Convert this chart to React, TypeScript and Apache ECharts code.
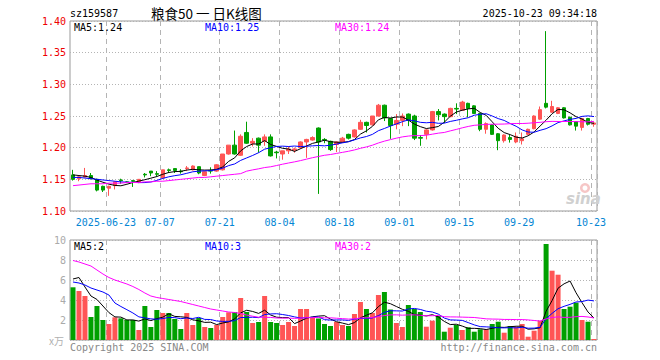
import React, { useEffect, useRef } from "react";
import * as echarts from "echarts";

const dates = [
  "2025-06-13","2025-06-16","2025-06-17","2025-06-18","2025-06-19","2025-06-20","2025-06-23","2025-06-24","2025-06-25","2025-06-26",
  "2025-06-27","2025-06-30","2025-07-01","2025-07-02","2025-07-03","2025-07-07","2025-07-08","2025-07-09","2025-07-10","2025-07-11",
  "2025-07-14","2025-07-15","2025-07-16","2025-07-17","2025-07-18","2025-07-21","2025-07-22","2025-07-23","2025-07-24","2025-07-25",
  "2025-07-28","2025-07-29","2025-07-30","2025-07-31","2025-08-01","2025-08-04","2025-08-05","2025-08-06","2025-08-07","2025-08-08",
  "2025-08-11","2025-08-12","2025-08-13","2025-08-14","2025-08-15","2025-08-18","2025-08-19","2025-08-20","2025-08-21","2025-08-22",
  "2025-08-25","2025-08-26","2025-08-27","2025-08-28","2025-08-29","2025-09-01","2025-09-02","2025-09-03","2025-09-04","2025-09-05",
  "2025-09-08","2025-09-09","2025-09-10","2025-09-11","2025-09-12","2025-09-15","2025-09-16","2025-09-17","2025-09-18","2025-09-19",
  "2025-09-22","2025-09-23","2025-09-24","2025-09-25","2025-09-26","2025-09-29","2025-09-30","2025-10-09","2025-10-10","2025-10-13",
  "2025-10-14","2025-10-15","2025-10-16","2025-10-17","2025-10-20","2025-10-21","2025-10-22","2025-10-23",
];

const tickDates = ["2025-06-23","2025-07-07","2025-07-21","2025-08-04","2025-08-18","2025-09-01","2025-09-15","2025-09-29","2025-10-23"];

const opens = [
  1.157,1.151,1.1535,1.156,1.150,1.139,1.136,1.140,1.149,1.146,
  1.148,1.145,1.158,1.163,1.159,1.152,1.165,1.167,1.163,1.167,
  1.165,1.170,1.156,1.164,1.163,1.165,1.190,1.204,1.188,1.224,
  1.207,1.215,1.210,1.217,1.193,1.190,1.195,1.196,1.200,1.209,
  1.212,1.231,1.213,1.210,1.205,1.209,1.221,1.217,1.229,1.240,
  1.236,1.250,1.267,1.246,1.237,1.243,1.253,1.250,1.216,1.221,
  1.228,1.257,1.253,1.249,1.262,1.259,1.270,1.266,1.254,1.229,
  1.236,1.222,1.211,1.216,1.209,1.211,1.221,1.230,1.245,1.270,
  1.256,1.254,1.263,1.248,1.241,1.232,1.246,1.237,
];
const closes = [
  1.150,1.154,1.156,1.151,1.133,1.133,1.139,1.146,1.148,1.145,
  1.147,1.150,1.157,1.160,1.158,1.165,1.164,1.164,1.162,1.168,
  1.171,1.160,1.162,1.163,1.173,1.190,1.204,1.190,1.218,1.207,
  1.210,1.204,1.217,1.187,1.192,1.195,1.198,1.198,1.209,1.213,
  1.216,1.209,1.212,1.197,1.209,1.215,1.215,1.228,1.240,1.235,
  1.250,1.267,1.247,1.235,1.243,1.250,1.243,1.215,1.215,1.228,
  1.257,1.252,1.249,1.262,1.261,1.272,1.262,1.254,1.229,1.238,
  1.221,1.211,1.220,1.213,1.218,1.214,1.229,1.250,1.260,1.264,
  1.265,1.263,1.247,1.236,1.234,1.246,1.237,1.239,
];
const lows = [
  1.148,1.147,1.153,1.150,1.131,1.130,1.124,1.134,1.143,1.144,
  1.138,1.144,1.153,1.155,1.154,1.151,1.160,1.160,1.159,1.163,
  1.164,1.158,1.155,1.159,1.162,1.164,1.189,1.189,1.187,1.206,
  1.202,1.192,1.203,1.186,1.183,1.181,1.190,1.192,1.198,1.184,
  1.211,1.127,1.207,1.195,1.193,1.208,1.213,1.216,1.228,1.224,
  1.235,1.249,1.242,1.214,1.229,1.234,1.234,1.212,1.203,1.213,
  1.227,1.243,1.239,1.248,1.253,1.258,1.248,1.253,1.226,1.222,
  1.220,1.196,1.208,1.208,1.207,1.205,1.220,1.229,1.244,1.262,
  1.255,1.253,1.246,1.235,1.227,1.227,1.235,1.233,
];
const highs = [
  1.165,1.155,1.168,1.160,1.151,1.140,1.140,1.146,1.151,1.147,
  1.149,1.150,1.160,1.163,1.163,1.165,1.167,1.167,1.166,1.171,
  1.172,1.170,1.163,1.169,1.174,1.190,1.204,1.227,1.221,1.241,
  1.215,1.216,1.221,1.221,1.195,1.195,1.202,1.200,1.210,1.214,
  1.218,1.232,1.215,1.211,1.210,1.217,1.222,1.229,1.244,1.241,
  1.250,1.269,1.268,1.247,1.253,1.254,1.254,1.252,1.220,1.229,
  1.258,1.261,1.254,1.263,1.270,1.274,1.271,1.267,1.255,1.240,
  1.237,1.223,1.221,1.220,1.224,1.224,1.230,1.251,1.265,1.384,
  1.274,1.264,1.264,1.249,1.242,1.247,1.247,1.240,
];

// volume, 万手
const volumes = [
  5.27,4.9,4.4,2.3,3.4,2.0,1.6,2.27,2.17,2.0,
  2.0,1.0,3.4,1.3,3.0,2.7,2.7,2.1,1.1,2.7,
  1.5,2.2,1.3,1.2,1.5,2.3,2.77,2.8,4.2,2.8,
  1.7,1.8,4.4,1.8,1.7,1.5,1.8,1.4,3.1,3.1,
  2.2,2.15,1.6,1.4,1.8,1.5,1.4,2.6,3.8,3.1,
  2.7,4.5,4.8,3.05,1.7,1.3,3.5,3.1,2.8,1.33,
  1.93,2.4,0.83,1.23,1.5,1.0,1.27,0.83,1.07,1.07,
  1.6,1.83,0.73,1.4,1.33,1.6,0.33,0.93,1.93,9.6,
  6.93,6.53,3.1,3.33,3.73,2.0,1.83,0.1,
];

// moving-average values at the left edge (their windows reach before the first candle)
const priceMa5Head = [1.157, 1.156, 1.155, 1.153];
const priceMa10Head = [1.153, 1.153, 1.152, 1.151, 1.150, 1.149, 1.148, 1.147, 1.146];
const priceMa30Head = [
  1.140,1.141,1.142,1.143,1.143,1.143,1.144,1.144,1.144,1.145,
  1.145,1.145,1.146,1.146,1.147,1.147,1.148,1.149,1.150,1.151,
  1.152,1.153,1.153,1.154,1.155,1.156,1.157,1.158,1.159,
];
const volMa5Head = [6.1, 6.25, 5.3, 4.4];
const volMa10Head = [5.8, 5.7, 5.5, 5.2, 5.0, 4.8, 4.5, 3.7, 3.35];
const volMa30Head = [
  7.95,7.8,7.6,7.4,7.0,6.6,6.25,6.0,5.8,5.6,
  5.35,5.05,4.7,4.4,4.25,4.15,4.05,3.95,3.85,3.7,
  3.55,3.4,3.25,3.1,3.0,2.9,2.8,2.75,2.65,
];

const priceTicks = [1.10, 1.15, 1.20, 1.25, 1.30, 1.35, 1.40];
const volTicks = [0, 2, 4, 6, 8, 10];

const legendPrice = ["MA5:1.24", "MA10:1.25", "MA30:1.24"];
const legendVol = ["MA5:2", "MA10:3", "MA30:2"];

const UP = "#ff5555";
const DOWN = "#00a000";
const MONO = '"DejaVu Sans Mono", monospace';

function movingAverage(values: number[], n: number, head: number[]): number[] {
  return values.map((_, i) => {
    if (i < n - 1) return head[i];
    let s = 0;
    for (let k = i - n + 1; k <= i; k++) s += values[k];
    return +(s / n).toFixed(4);
  });
}

export default function App() {
  const ref = useRef<HTMLDivElement>(null);

  useEffect(() => {
    if (!ref.current) return;
    const chart = echarts.init(ref.current, undefined, { renderer: "svg" });

    const tickIdx = tickDates.map((d) => dates.indexOf(d));
    const isTick = (i: number) => tickIdx.indexOf(i) >= 0;

    const candles = dates.map((_, i) => [opens[i], closes[i], lows[i], highs[i]]);
    const volBars = volumes.map((v, i) => ({
      value: v,
      itemStyle: { color: closes[i] >= opens[i] ? UP : DOWN },
    }));

    const pMa5 = movingAverage(closes, 5, priceMa5Head);
    const pMa10 = movingAverage(closes, 10, priceMa10Head);
    const pMa30 = movingAverage(closes, 30, priceMa30Head);
    const vMa5 = movingAverage(volumes, 5, volMa5Head);
    const vMa10 = movingAverage(volumes, 10, volMa10Head);
    const vMa30 = movingAverage(volumes, 30, volMa30Head);

    const vSplit = {
      show: true,
      interval: (i: number) => isTick(i),
      lineStyle: { color: "#b4b4b4", type: [5, 4], width: 1 },
    };
    const hSplit = {
      show: true,
      lineStyle: { color: "#b4b4b4", type: [1, 2], width: 1 },
    };

    const line = (data: number[], color: string, xi: number) => ({
      type: "line",
      xAxisIndex: xi,
      yAxisIndex: xi,
      data,
      symbol: "none",
      smooth: false,
      lineStyle: { color, width: 1 },
      itemStyle: { color },
      z: 5,
    });

    const txt = (x: number, y: number, text: string, fill: string, align = "left", font = `10px ${MONO}`) => ({
      type: "text",
      x,
      y,
      z: 100,
      style: { text, fill, font, textAlign: align, textVerticalAlign: "middle" },
    });

    chart.setOption({
      animation: false,
      backgroundColor: "#ffffff",
      textStyle: { fontFamily: MONO },
      grid: [
        { left: 70, top: 21, width: 527, height: 190, show: true, borderColor: "#999999", borderWidth: 1, backgroundColor: "transparent" },
        { left: 70, top: 240, width: 527, height: 100, show: true, borderColor: "#999999", borderWidth: 1, backgroundColor: "transparent" },
      ],
      xAxis: [
        {
          type: "category",
          gridIndex: 0,
          data: dates,
          boundaryGap: true,
          axisLine: { show: false },
          axisTick: { show: false },
          axisLabel: {
            interval: (i: number) => isTick(i),
            formatter: (v: string, i: number) => (i === tickIdx[0] ? v : v.slice(5)),
            color: "#0586d4",
            fontFamily: MONO,
            fontSize: 10,
            margin: 6,
            padding: [0, 6, 0, 0],
          },
          splitLine: vSplit,
        },
        {
          type: "category",
          gridIndex: 1,
          data: dates,
          boundaryGap: true,
          axisLine: { show: false },
          axisTick: { show: false },
          axisLabel: { show: false },
          splitLine: vSplit,
        },
      ],
      yAxis: [
        {
          type: "value",
          gridIndex: 0,
          min: priceTicks[0],
          max: priceTicks[priceTicks.length - 1],
          interval: 0.05,
          axisLine: { show: false },
          axisTick: { show: false },
          axisLabel: {
            color: "#ee0000",
            fontFamily: MONO,
            fontSize: 10,
            margin: 4,
            formatter: (v: number) => v.toFixed(2),
          },
          splitLine: hSplit,
        },
        {
          type: "value",
          gridIndex: 1,
          min: volTicks[0],
          max: volTicks[volTicks.length - 1],
          interval: 2,
          axisLine: { show: false },
          axisTick: { show: false },
          axisLabel: {
            color: "#aaaaaa",
            fontFamily: MONO,
            fontSize: 10,
            margin: 4,
            formatter: (v: number) => (v === 0 ? "" : String(v)),
          },
          splitLine: hSplit,
        },
      ],
      series: [
        {
          type: "candlestick",
          xAxisIndex: 0,
          yAxisIndex: 0,
          data: candles,
          barWidth: 4,
          itemStyle: { color: UP, color0: DOWN, borderColor: UP, borderColor0: DOWN, borderWidth: 1 },
          z: 3,
        },
        line(pMa5, "#000000", 0),
        line(pMa10, "#0000ff", 0),
        line(pMa30, "#ff00ff", 0),
        {
          type: "bar",
          xAxisIndex: 1,
          yAxisIndex: 1,
          data: volBars,
          barWidth: 5,
          z: 3,
        },
        line(vMa5, "#000000", 1),
        line(vMa10, "#0000ff", 1),
        line(vMa30, "#ff00ff", 1),
      ],
      graphic: [
        txt(70, 13, "sz159587", "#000000"),
        txt(151, 13, "粮食50 一 日K线图", "#000000", "left", `13.5px "Noto Sans CJK SC"`),
        txt(597, 13, "2025-10-23 09:34:18", "#000000", "right"),
        txt(74, 27, legendPrice[0], "#000000"),
        txt(205, 27, legendPrice[1], "#0000ff"),
        txt(335, 27, legendPrice[2], "#ff00ff"),
        txt(74, 246, legendVol[0], "#000000"),
        txt(205, 246, legendVol[1], "#0000ff"),
        txt(335, 246, legendVol[2], "#ff00ff"),
        txt(49, 340, "x万", "#b0b0b0", "left", `10px "Noto Sans CJK SC"`),
        txt(70, 347, "Copyright 2025 SINA.COM", "#888888"),
        txt(597, 347, "http://finance.sina.com.cn", "#888888", "right"),
        { type: "ring", shape: { cx: 585, cy: 188, r: 5, r0: 2.5 }, style: { fill: "#f6c6c6" }, z: 1 },
        txt(566, 199, "sina", "#d0d0d0", "left", `italic bold 15px "DejaVu Sans"`),
      ],
    });

    return () => chart.dispose();
  }, []);

  return (
    <div
      ref={ref}
      style={{ position: "fixed", left: 0, top: 0, width: 660, height: 360, background: "#fff" }}
    />
  );
}
